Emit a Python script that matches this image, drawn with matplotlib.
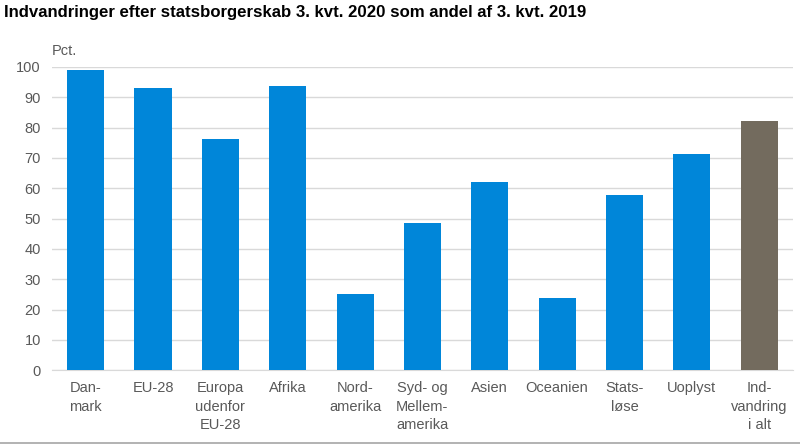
#!/usr/bin/env python3
"""Indvandringer efter statsborgerskab, 3. kvt. 2020 som andel af 3. kvt. 2019."""

import matplotlib

matplotlib.use("Agg")
import matplotlib.pyplot as plt
import numpy as np

plt.rcParams["font.family"] = ["Liberation Sans", "DejaVu Sans"]

CATEGORIES = [
    "Dan-\nmark",
    "EU-28",
    "Europa\nudenfor\nEU-28",
    "Afrika",
    "Nord-\namerika",
    "Syd- og\nMellem-\namerika",
    "Asien",
    "Oceanien",
    "Stats-\nløse",
    "Uoplyst",
    "Ind-\nvandring\ni alt",
]
VALUES = [99.0, 93.0, 76.1, 93.8, 25.1, 48.4, 62.1, 23.9, 57.8, 71.2, 82.1]
COLORS = ["#0086d9"] * 10 + ["#736b5e"]
Y_TICKS = list(range(0, 101, 10))

TEXT_GREY = "#595959"

fig = plt.figure(figsize=(8.0, 4.46), dpi=100)
ax = fig.add_axes([0.065, 0.170, 0.926, 0.680])

x = np.arange(len(CATEGORIES))
ax.bar(x, VALUES, width=0.55, color=COLORS, zorder=3)

ax.set_ylim(0, 100)
ax.set_xlim(-0.5, len(CATEGORIES) - 0.5)
ax.set_yticks(Y_TICKS)
ax.set_xticks(x)
ax.set_xticklabels(CATEGORIES, linespacing=1.4)
ax.tick_params(axis="both", length=0, colors=TEXT_GREY, labelsize=10.5)
ax.tick_params(axis="x", pad=8)
ax.tick_params(axis="y", pad=8)
ax.yaxis.grid(True, color="#d9d9d9", linewidth=1.0, zorder=0)
ax.set_axisbelow(True)
for side in ["top", "right", "left"]:
    ax.spines[side].set_visible(False)
ax.spines["bottom"].set_color("#d9d9d9")

fig.text(0.065, 0.870, "Pct.", color=TEXT_GREY, fontsize=10.5, ha="left", va="bottom")
fig.text(0.005, 0.972, "Indvandringer efter statsborgerskab 3. kvt. 2020 som andel af 3. kvt. 2019",
         fontsize=12.1, fontweight="bold", ha="left", va="center")
fig.add_artist(plt.Line2D([0, 1], [0.007, 0.007], color="#a6a6a6", linewidth=1.2))

fig.savefig("out.png", dpi=100)
